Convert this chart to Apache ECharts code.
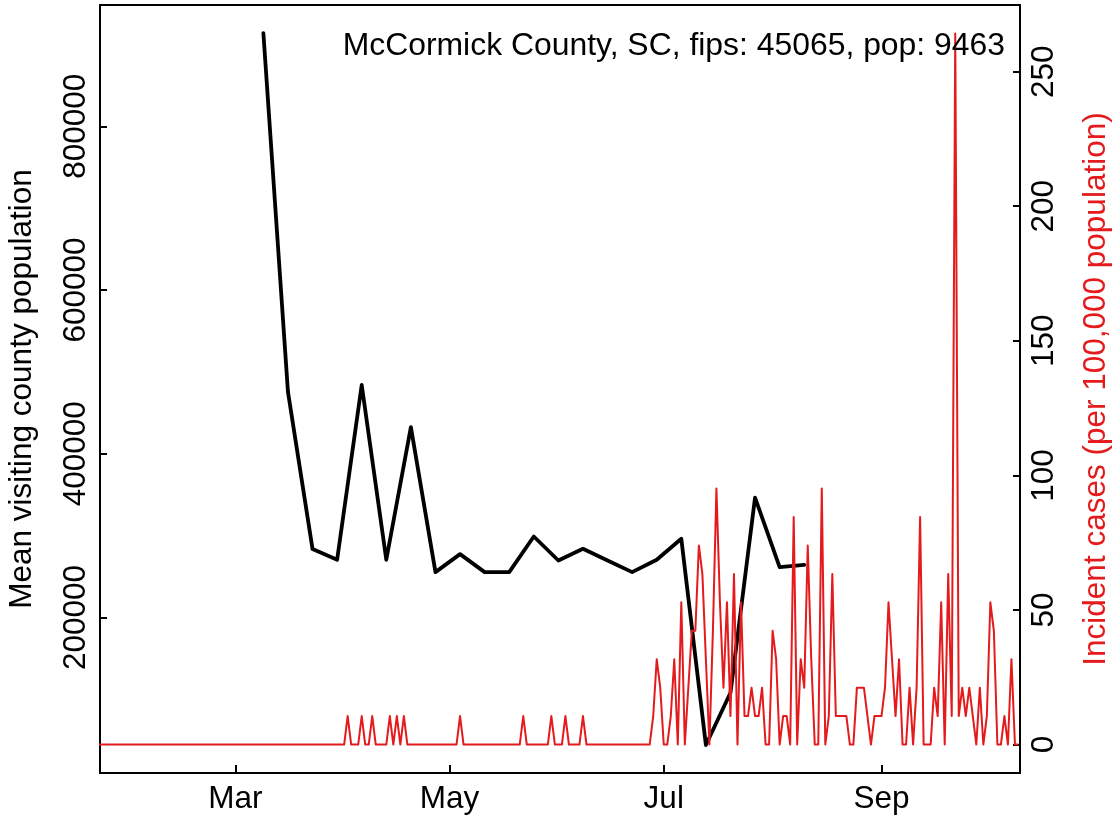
<!DOCTYPE html>
<html><head><meta charset="utf-8">
<script src="https://cdn.jsdelivr.net/npm/echarts@6/dist/echarts.min.js"></script>
<style>html,body{margin:0;padding:0;background:#fff}#c{width:1119px;height:822px}</style>
</head><body><div id="c"></div>
<script>
const titleText = 'McCormick County, SC, fips: 45065, pop: 9463';
const leftAxisTitle = 'Mean visiting county population';
const rightAxisTitle = 'Incident cases (per 100,000 population)';

// weekly mean visiting county population (black)
const visitDates = ['2020-03-09','2020-03-16','2020-03-23','2020-03-30','2020-04-06','2020-04-13','2020-04-20','2020-04-27',
  '2020-05-04','2020-05-11','2020-05-18','2020-05-25','2020-06-01','2020-06-08','2020-06-15','2020-06-22','2020-06-29',
  '2020-07-06','2020-07-13','2020-07-20','2020-07-27','2020-08-03','2020-08-10'];
const visitValues = [913900,475600,283500,270500,484100,270500,432500,255400,
  277400,255400,255400,298900,269600,283900,269700,255400,270500,
  296100,44200,108000,346500,261500,264300];

// daily incident cases per 100,000 (red), one value per day from caseStartDate
const caseStartDate = '2020-01-22';
const caseValues = [
  0,0,0,0,0,0,0,0,0,0,
  0,0,0,0,0,0,0,0,0,0,
  0,0,0,0,0,0,0,0,0,0,
  0,0,0,0,0,0,0,0,0,0,
  0,0,0,0,0,0,0,0,0,0,
  0,0,0,0,0,0,0,0,0,0,
  0,0,0,0,0,0,0,0,0,0,
  0,10.57,0,0,0,10.57,0,0,10.57,0,
  0,0,0,10.57,0,10.57,0,10.57,0,0,
  0,0,0,0,0,0,0,0,0,0,
  0,0,0,10.57,0,0,0,0,0,0,
  0,0,0,0,0,0,0,0,0,0,
  0,10.57,0,0,0,0,0,0,0,10.57,
  0,0,0,10.57,0,0,0,0,10.57,0,
  0,0,0,0,0,0,0,0,0,0,
  0,0,0,0,0,0,0,0,10.57,31.70,
  21.13,0,0,10.57,31.70,0,52.84,0,21.13,42.27,
  42.27,73.97,63.40,31.70,0,42.27,95.11,52.84,21.13,52.84,
  10.57,63.40,0,52.84,10.57,10.57,21.13,10.57,10.57,21.13,
  0,0,42.27,31.70,0,10.57,10.57,0,84.54,0,
  31.70,21.13,73.97,31.70,0,0,95.11,0,10.57,63.40,
  10.57,10.57,10.57,10.57,0,0,21.13,21.13,21.13,10.57,
  0,10.57,10.57,10.57,21.13,52.84,31.70,10.57,31.70,0,
  0,21.13,0,21.13,84.54,0,0,0,21.13,10.57,
  52.84,0,63.40,10.57,264.19,10.57,21.13,10.57,21.13,10.57,
  0,21.13,0,10.57,52.84,42.27,0,0,10.57,0,
  31.70,0,0
];

const monthTickDates = ['2020-03-01','2020-05-01','2020-07-01','2020-09-01'];
const monthTickLabels = ['Mar','May','Jul','Sep'];
const leftTicks = [200000,400000,600000,800000];
const rightTicks = [0,50,100,150,200,250];

function toTs(s){const p=s.split('-').map(Number);return Date.UTC(p[0],p[1]-1,p[2]);}
const DAY = 86400000;
const start = toTs(caseStartDate);
const caseData = caseValues.map((v,i)=>[start + i*DAY, v]);
const visitData = visitDates.map((d,i)=>[toTs(d), visitValues[i]]);
const monthTicks = monthTickDates.map(toTs);

const FONT = "'Liberation Sans', Arial, Helvetica, sans-serif";
const FS = 31.5;
const RED = '#E41A1C';

const chart = echarts.init(document.getElementById('c'), null, {renderer:'canvas'});
chart.setOption({
  animation:false,
  backgroundColor:'#fff',
  title:{text:titleText,right:114,top:30,padding:0,
    textStyle:{fontFamily:FONT,fontSize:31.9,fontWeight:'normal',color:'#000'}},
  grid:{left:100,top:5,width:920,height:768,containLabel:false,outerBoundsMode:'none',
    show:true,borderColor:'#000',borderWidth:2,backgroundColor:'transparent'},
  xAxis:{type:'value',min:start+0.48*DAY,max:start+262.44*DAY,
    axisLine:{show:false,onZero:false},splitLine:{show:false},
    axisTick:{inside:true,length:8,lineStyle:{color:'#000',width:2},customValues:monthTicks},
    axisLabel:{customValues:monthTicks,margin:10,color:'#000',fontFamily:FONT,fontSize:FS,
      formatter:(v)=>{const i=monthTicks.indexOf(v);return i>=0?monthTickLabels[i]:'';}}},
  yAxis:[
    {type:'value',position:'left',min:10000,max:948200,
      axisLine:{show:false,onZero:false},splitLine:{show:false},
      axisTick:{inside:true,length:7,lineStyle:{color:'#000',width:2},customValues:leftTicks},
      axisLabel:{customValues:leftTicks,rotate:90,margin:8,color:'#000',fontFamily:FONT,fontSize:FS,formatter:(v)=>String(v)},
      name:leftAxisTitle,nameLocation:'middle',nameGap:62,
      nameTextStyle:{color:'#000',fontFamily:FONT,fontSize:FS}},
    {type:'value',position:'right',min:-10.57,max:274.76,
      axisLine:{show:false,onZero:false},splitLine:{show:false},
      axisTick:{inside:true,length:7,lineStyle:{color:'#000',width:2},customValues:rightTicks},
      axisLabel:{customValues:rightTicks,rotate:90,margin:8,color:'#000',fontFamily:FONT,fontSize:FS,formatter:(v)=>String(v)},
      name:rightAxisTitle,nameLocation:'middle',nameGap:60,
      nameTextStyle:{color:RED,fontFamily:FONT,fontSize:FS}}
  ],
  series:[
    {type:'line',yAxisIndex:0,data:visitData,symbol:'none',
      lineStyle:{color:'#000',width:3.8,cap:'round',join:'round'}},
    {type:'line',yAxisIndex:1,data:caseData,symbol:'none',
      lineStyle:{color:RED,width:2,join:'round'}}
  ]
});
</script></body></html>
